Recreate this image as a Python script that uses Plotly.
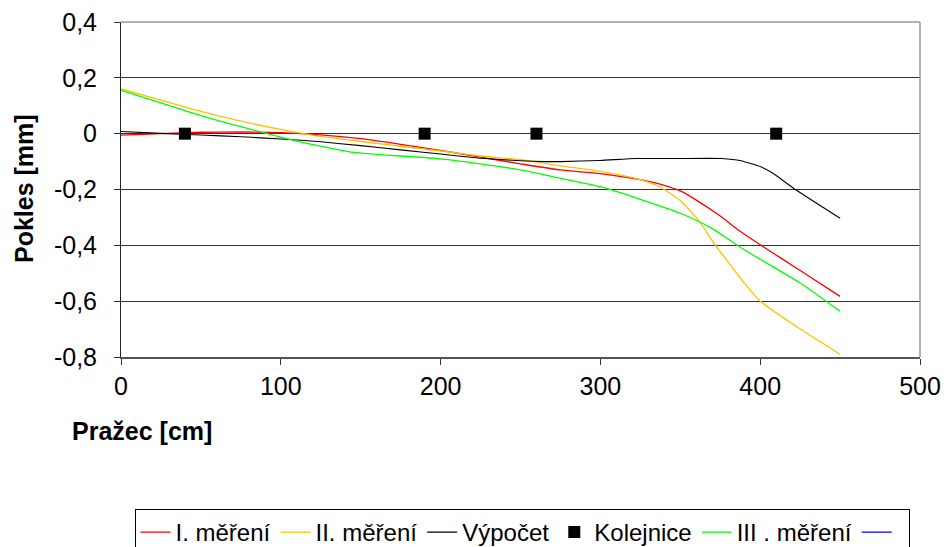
import plotly.graph_objects as go

# Sleeper position [cm]
x_mer1 = [0, 25, 50, 75, 100, 125, 150, 175, 200, 225, 250, 275, 300, 325, 340, 350, 360, 375, 387, 400, 425, 450]
y_mer1 = [-0.005, 0.0, 0.005, 0.006, 0.004, -0.004, -0.018, -0.038, -0.06, -0.084, -0.108, -0.13, -0.143, -0.165, -0.185, -0.205, -0.238, -0.295, -0.348, -0.398, -0.49, -0.583]

x_mer2 = [0, 25, 50, 75, 100, 125, 150, 175, 200, 225, 250, 275, 300, 312, 325, 337, 350, 362, 372, 380, 390, 400, 425, 450]
y_mer2 = [0.16, 0.12, 0.08, 0.045, 0.015, -0.01, -0.028, -0.045, -0.062, -0.08, -0.093, -0.115, -0.135, -0.148, -0.165, -0.19, -0.24, -0.315, -0.4, -0.46, -0.535, -0.6, -0.7, -0.79]

x_vyp = [0, 25, 50, 75, 100, 125, 150, 175, 200, 225, 250, 265, 275, 300, 322, 350, 376, 388, 400, 408, 422, 450]
y_vyp = [0.008, 0.001, -0.005, -0.011, -0.019, -0.029, -0.043, -0.058, -0.073, -0.088, -0.097, -0.1, -0.1, -0.096, -0.089, -0.089, -0.089, -0.097, -0.118, -0.142, -0.2, -0.303]

x_kol = [40, 190, 260, 410]
y_kol = [0, 0, 0, 0]

x_mer3 = [0, 25, 50, 75, 100, 112, 125, 143, 162, 175, 200, 225, 250, 275, 300, 325, 350, 370, 387, 400, 425, 450]
y_mer3 = [0.155, 0.11, 0.065, 0.025, -0.012, -0.029, -0.045, -0.065, -0.075, -0.08, -0.09, -0.108, -0.13, -0.16, -0.19, -0.235, -0.285, -0.34, -0.405, -0.45, -0.535, -0.636]

y_ticks = [0.4, 0.2, 0, -0.2, -0.4, -0.6, -0.8]
y_ticktext = ["0,4", "0,2", "0", "-0,2", "-0,4", "-0,6", "-0,8"]
x_ticks = [0, 100, 200, 300, 400, 500]

FONT = "Liberation Sans, Arial, sans-serif"

# plot area in pixels
L, R, T, B = 121, 920, 21.5, 357.5
W, H = 946, 547


def cx(px):
    return px / W


def cy(py):
    return 1 - py / H


fig = go.Figure()
line_kw = dict(mode="lines", line_shape="spline")
fig.add_trace(go.Scatter(x=x_mer1, y=y_mer1, name="I. měření",
                         line=dict(color="#FF0000", width=1.3, smoothing=0.6), **line_kw))
fig.add_trace(go.Scatter(x=x_mer2, y=y_mer2, name="II. měření",
                         line=dict(color="#FFC000", width=1.3, smoothing=0.6), **line_kw))
fig.add_trace(go.Scatter(x=x_vyp, y=y_vyp, name="Výpočet",
                         line=dict(color="#000000", width=1.1, smoothing=0.4), **line_kw))
fig.add_trace(go.Scatter(x=x_kol, y=y_kol, name="Kolejnice", mode="markers",
                         marker=dict(symbol="square", size=12, color="#000000")))
fig.add_trace(go.Scatter(x=x_mer3, y=y_mer3, name="III . měření",
                         line=dict(color="#00FF00", width=1.3, smoothing=0.6), **line_kw))
fig.add_trace(go.Scatter(x=[None], y=[None], name=" ", mode="lines",
                         line=dict(color="#0000FF", width=1.3)))

fig.update_layout(
    width=W, height=H,
    margin=dict(l=L, r=W - R, t=T, b=H - B, autoexpand=False),
    paper_bgcolor="white", plot_bgcolor="white",
    font=dict(family=FONT, size=22, color="black"),
    showlegend=True,
    legend=dict(
        orientation="h", xref="container", yref="container",
        x=cx(522), xanchor="center", y=cy(509), yanchor="top",
        bordercolor="black", borderwidth=1, font=dict(size=24),
        itemwidth=30, tracegroupgap=0, traceorder="normal",
    ),
    xaxis=dict(
        range=[0, 500], tickvals=x_ticks, ticks="outside", ticklen=6,
        tickcolor="#333", showgrid=False, zeroline=False,
        showline=True, linecolor="#555", linewidth=2,
        tickfont=dict(size=25), ticklabelstandoff=0,
    ),
    yaxis=dict(
        range=[-0.8, 0.4], tickvals=y_ticks, ticktext=y_ticktext,
        ticks="outside", ticklen=6, tickcolor="#333",
        showgrid=True, gridcolor="#333", gridwidth=1, zeroline=False,
        showline=True, linecolor="#222", linewidth=1,
        tickfont=dict(size=25), ticklabelstandoff=12,
    ),
    shapes=[
        dict(type="line", xref="paper", yref="paper", x0=0, x1=1, y0=1, y1=1,
             line=dict(color="#999", width=1.5)),
        dict(type="line", xref="paper", yref="paper", x0=1, x1=1, y0=0, y1=1,
             line=dict(color="#999", width=1.5)),
    ],
    annotations=[
        dict(text="<b>Pokles [mm]</b>", xref="paper", yref="paper",
             x=(24 - L) / (R - L), y=(B - 189) / (B - T), textangle=-90,
             showarrow=False, xanchor="center", yanchor="middle",
             font=dict(size=25)),
        dict(text="<b>Pražec [cm]</b>", xref="paper", yref="paper",
             x=(142 - L) / (R - L), y=-(432 - B) / (B - T), showarrow=False,
             xanchor="center", yanchor="middle", font=dict(size=25)),
    ],
)

fig.write_html("out.html")
